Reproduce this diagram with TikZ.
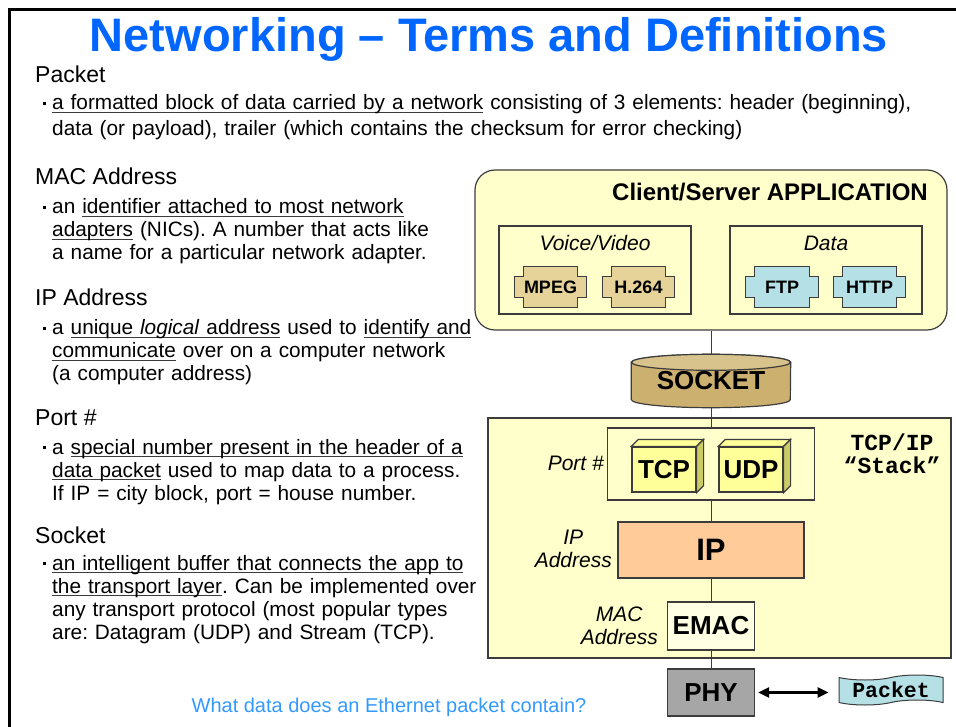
\documentclass[tikz,border=0pt]{standalone}
\usepackage{fontspec}
\setmainfont{Liberation Sans}
\newfontfamily\codefont{Liberation Mono}
\usetikzlibrary{positioning,arrows.meta,shapes.symbols}

\definecolor{titleblue}{RGB}{0,102,255}
\definecolor{askblue}{RGB}{51,153,255}
\definecolor{paleyellow}{RGB}{255,255,204}
\definecolor{cubeface}{RGB}{255,255,153}
\definecolor{cubeside}{RGB}{204,204,102}
\definecolor{codectan}{RGB}{230,211,154}
\definecolor{protoblue}{RGB}{181,224,230}
\definecolor{sockbody}{RGB}{204,176,112}
\definecolor{socktop}{RGB}{217,195,140}
\definecolor{ipfill}{RGB}{255,204,153}
\definecolor{emacfill}{RGB}{255,255,228}
\definecolor{phygray}{RGB}{166,166,166}
\definecolor{edgegray}{RGB}{60,60,60}

\newcommand{\uln}[1]{\leavevmode\setbox0\hbox{#1}\rlap{\color{edgegray}\rule[-3pt]{\wd0}{1pt}}\box0\relax}
\newcommand{\dotmark}{\leavevmode\llap{\rule[5pt]{3pt}{3pt}\hspace{6pt}}}
\frenchspacing

\pgfdeclarelayer{back}
\pgfdeclarelayer{mid}
\pgfsetlayers{back,mid,main}

\tikzset{
  heading/.style={anchor=base west, inner sep=0pt, font=\fontsize{23}{23}\selectfont},
  defn/.style={anchor=base west, inner sep=0pt, text width=#1, align=left, font=\fontsize{20.8}{23}\selectfont},
  grouping/.style={draw=edgegray, line width=1.2pt, fill=paleyellow, inner sep=0pt},
  codec/.style={minimum width=72pt, minimum height=40pt, inner sep=0pt, font=\bfseries\fontsize{18}{18}\selectfont},
  layerbox/.style={draw=edgegray, line width=1.2pt, inner sep=0pt, font=\bfseries\fontsize{26}{26}\selectfont},
  sidelabel/.style={anchor=east, align=center, inner sep=0pt, font=\itshape\fontsize{21}{23}\selectfont},
  wire/.style={draw=edgegray, line width=1pt},
}

\begin{document}
\begin{tikzpicture}[x=1pt,y=-1pt]
  \useasboundingbox (0,0) rectangle (956,727);
  % Frame and title
  \draw[line width=3pt] (9,727) -- (9,10) -- (956,10);
  \node[anchor=base, inner sep=0pt, text=titleblue, font=\bfseries\fontsize{47}{47}\selectfont] (title) at (489,51.5) {Networking – Terms and Definitions};

  % Terms
  \node[heading] (hpacket) at (35,83) {Packet};
  \node[defn=900pt, font=\fontsize{20.8}{26}\selectfont] (tpacket) at (52,110)
    {\dotmark\uln{a formatted block of data carried by a network} consisting of 3 elements: header (beginning),\\
     data (or payload), trailer (which contains the checksum for error checking)};
  \node[heading] (hmac) at (35,185) {MAC Address};
  \node[defn=440pt] (tmac) at (52,214)
    {\dotmark an \uln{identifier attached to most network}\\
     \uln{adapters} (NICs). A number that acts like\\
     a name for a particular network adapter.};
  \node[heading] (hip) at (35,306) {IP Address};
  \node[defn=440pt] (tip) at (52,335)
    {\dotmark a \uln{unique \textit{logical} address} used to \uln{identify and}\\
     \uln{communicate} over on a computer network\\
     (a computer address)};
  \node[heading] (hport) at (35,425) {Port \#};
  \node[defn=440pt] (tport) at (52,454)
    {\dotmark a \uln{special number present in the header of a}\\
     \uln{data packet} used to map data to a process.\\
     If IP = city block, port = house number.};
  \node[heading] (hsocket) at (35,543) {Socket};
  \node[defn=440pt] (tsocket) at (52,570)
    {\dotmark\uln{an intelligent buffer that connects the app to}\\
     \uln{the transport layer}. Can be implemented over\\
     any transport protocol (most popular types\\
     are: Datagram (UDP) and Stream (TCP).};

  % Boxes behind
  \begin{pgfonlayer}{back}
    \node[grouping, rounded corners=20pt, minimum width=472pt, minimum height=160pt] (app) at (711,250) {};
    \node[grouping, minimum width=192pt, minimum height=88pt] (voice) at (595,270) {};
    \node[grouping, minimum width=192pt, minimum height=88pt] (data) at (826,270) {};
    \node[grouping, minimum width=463pt, minimum height=240pt] (stack) at (719.5,538) {};
    \node[grouping, minimum width=207pt, minimum height=72pt] (ports) at (711,464) {};
  \end{pgfonlayer}

  % Application
  \node[anchor=base east, inner sep=0pt, font=\bfseries\fontsize{24}{24}\selectfont] (apptitle) at (928,200.5) {Client/Server APPLICATION};
  \node[anchor=base, inner sep=0pt, font=\itshape\fontsize{21}{21}\selectfont] (voicetitle) at (595,250.5) {Voice/Video};
  \node[anchor=base, inner sep=0pt, font=\itshape\fontsize{21}{21}\selectfont] (datatitle) at (826,250.5) {Data};
  \node[codec] (mpeg) at (550.5,287) {MPEG};
  \node[codec] (h264) at (638.5,287) {H.264};
  \node[codec] (ftp) at (782,287) {FTP};
  \node[codec] (http) at (869.5,287) {HTTP};
  \begin{pgfonlayer}{mid}
    \foreach \n/\c in {mpeg/codectan, h264/codectan, ftp/protoblue, http/protoblue}
      \draw[edgegray, line width=1.2pt, fill=\c]
        ([xshift=9pt]\n.north west) -- ([xshift=-9pt]\n.north east)
        -- ([xshift=-9pt,yshift=-10pt]\n.north east) -- ([yshift=-10pt]\n.north east)
        -- ([yshift=10pt]\n.south east) -- ([xshift=-9pt,yshift=10pt]\n.south east)
        -- ([xshift=-9pt]\n.south east) -- ([xshift=9pt]\n.south west)
        -- ([xshift=9pt,yshift=10pt]\n.south west) -- ([yshift=10pt]\n.south west)
        -- ([yshift=-10pt]\n.north west) -- ([xshift=9pt,yshift=-10pt]\n.north west) -- cycle;
  \end{pgfonlayer}

  % Socket
  \node[inner sep=0pt, minimum width=159pt, minimum height=53pt, font=\bfseries\fontsize{26}{26}\selectfont] (socket) at (711,381) {SOCKET};
  \begin{pgfonlayer}{mid}
    \draw[edgegray, line width=1.2pt, fill=sockbody]
      ([yshift=-8pt]socket.north west) -- ([yshift=8pt]socket.south west)
      arc[start angle=180, end angle=360, x radius=79.5pt, y radius=8pt]
      -- ([yshift=-8pt]socket.north east)
      arc[start angle=0, end angle=180, x radius=79.5pt, y radius=8pt] -- cycle;
    \draw[edgegray, line width=1.2pt, fill=socktop] ([yshift=-8pt]socket.north) ellipse [x radius=79.5pt, y radius=8pt];
  \end{pgfonlayer}

  % TCP/IP stack
  \node[layerbox, fill=cubeface, minimum width=64pt, minimum height=45pt] (tcp) at (664,469.5) {TCP};
  \node[layerbox, fill=cubeface, minimum width=64pt, minimum height=45pt] (udp) at (751,469.5) {UDP};
  \foreach \n in {tcp,udp} {
    \draw[edgegray, line width=1.2pt, fill=cubeface] (\n.north west) -- ++(7pt,7pt) -- ([shift={(7pt,7pt)}]\n.north east) -- (\n.north east) -- cycle;
    \draw[edgegray, line width=1.2pt, fill=cubeside] (\n.north east) -- ++(7pt,7pt) -- ([shift={(7pt,7pt)}]\n.south east) -- (\n.south east) -- cycle;
  }
  \node[sidelabel] (portlbl) at (604,463) {Port \#};
  \node[align=center, inner sep=0pt, font=\codefont\bfseries\fontsize{23}{23}\selectfont] (stacklbl) at (892,454) {TCP/IP\\“Stack”};
  \node[layerbox, fill=ipfill, minimum width=186pt, minimum height=56pt, font=\bfseries\fontsize{31}{31}\selectfont] (ip) at (711,550) {IP};
  \node[sidelabel] (iplbl) at (612,549) {IP\\Address};
  \node[layerbox, fill=emacfill, minimum width=87pt, minimum height=48pt] (emac) at (711,626) {EMAC};
  \node[sidelabel] (maclbl) at (658,626) {MAC\\Address};
  \node[layerbox, fill=phygray, minimum width=87pt, minimum height=47pt] (phy) at (711,692.5) {PHY};
  \node[tape, draw=edgegray, line width=1pt, fill=protoblue, minimum width=104pt, minimum height=30pt, inner sep=0pt, font=\codefont\bfseries\fontsize{21.5}{21.5}\selectfont] (pkt) at (891,690) {Packet};

  % Connectors
  \draw[wire] (app.south) -- (socket.north);
  \draw[wire] (socket.south) -- (ports.north);
  \draw[wire] (ports.south) -- (ip.north);
  \draw[wire] (ip.south) -- (emac.north);
  \draw[wire] (emac.south) -- (phy.north);
  \draw[line width=2.5pt, {Triangle[length=11pt,width=10pt]}-{Triangle[length=11pt,width=10pt]}, shorten <=3pt, shorten >=10pt] (phy.east) -- (phy.east -| pkt.west);

  % Question
  \node[anchor=base, inner sep=0pt, text=askblue, font=\fontsize{20}{20}\selectfont] (ask) at (389,712) {What data does an Ethernet packet contain?};
\end{tikzpicture}
\end{document}
